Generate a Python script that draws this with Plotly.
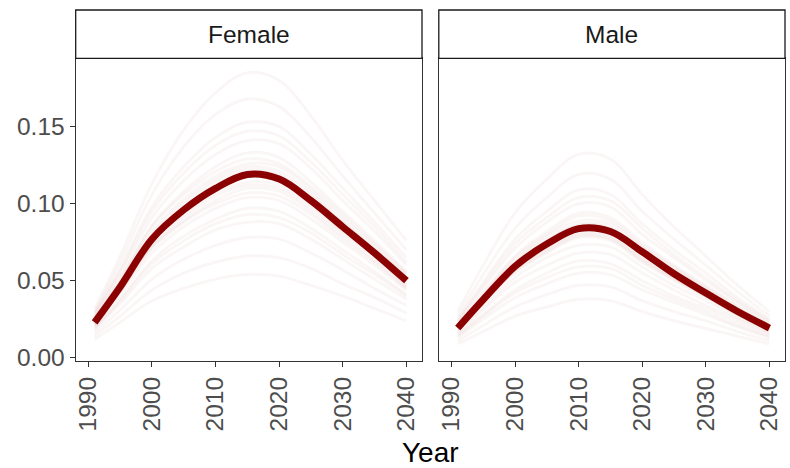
import plotly.graph_objects as go

# ---------------- data ----------------
years = [1991, 1995, 2000, 2005, 2010, 2015, 2020, 2025, 2030, 2035, 2040]
panels = ["Female", "Male"]

female_mean = [0.023, 0.046, 0.077, 0.096, 0.110, 0.119, 0.116, 0.102, 0.085, 0.068, 0.050]
male_mean = [0.0193, 0.0377, 0.0593, 0.0738, 0.0838, 0.0820, 0.0688, 0.0545, 0.0420, 0.0300, 0.0193]

female_draws = [
    [0.032, 0.066, 0.113, 0.148, 0.172, 0.185, 0.180, 0.157, 0.128, 0.102, 0.076],
    [0.030, 0.062, 0.106, 0.137, 0.158, 0.168, 0.163, 0.143, 0.118, 0.094, 0.070],
    [0.029, 0.058, 0.098, 0.124, 0.143, 0.153, 0.150, 0.132, 0.110, 0.088, 0.065],
    [0.027, 0.054, 0.091, 0.115, 0.132, 0.141, 0.139, 0.123, 0.102, 0.082, 0.060],
    [0.026, 0.051, 0.086, 0.108, 0.124, 0.133, 0.130, 0.114, 0.095, 0.076, 0.056],
    [0.025, 0.049, 0.082, 0.103, 0.118, 0.126, 0.124, 0.109, 0.091, 0.073, 0.054],
    [0.024, 0.047, 0.079, 0.099, 0.114, 0.122, 0.119, 0.105, 0.088, 0.070, 0.052],
    [0.023, 0.046, 0.077, 0.096, 0.111, 0.118, 0.116, 0.102, 0.085, 0.068, 0.050],
    [0.022, 0.045, 0.075, 0.093, 0.107, 0.114, 0.112, 0.099, 0.082, 0.066, 0.048],
    [0.022, 0.043, 0.072, 0.089, 0.102, 0.110, 0.108, 0.095, 0.079, 0.063, 0.046],
    [0.021, 0.041, 0.068, 0.085, 0.097, 0.104, 0.102, 0.090, 0.075, 0.060, 0.044],
    [0.020, 0.038, 0.063, 0.079, 0.090, 0.097, 0.095, 0.084, 0.070, 0.056, 0.041],
    [0.018, 0.035, 0.058, 0.072, 0.083, 0.088, 0.087, 0.077, 0.064, 0.051, 0.038],
    [0.016, 0.031, 0.051, 0.064, 0.073, 0.078, 0.077, 0.068, 0.057, 0.045, 0.034],
    [0.014, 0.027, 0.044, 0.055, 0.062, 0.066, 0.065, 0.058, 0.048, 0.039, 0.029],
    [0.012, 0.023, 0.037, 0.045, 0.051, 0.054, 0.053, 0.047, 0.040, 0.032, 0.024],
    [0.025, 0.050, 0.085, 0.106, 0.121, 0.129, 0.126, 0.111, 0.093, 0.074, 0.055],
    [0.021, 0.043, 0.071, 0.088, 0.100, 0.107, 0.105, 0.093, 0.077, 0.062, 0.045],
    [0.024, 0.048, 0.080, 0.101, 0.116, 0.124, 0.121, 0.107, 0.089, 0.071, 0.053],
    [0.022, 0.044, 0.073, 0.091, 0.105, 0.112, 0.110, 0.097, 0.081, 0.065, 0.047],
    [0.028, 0.056, 0.095, 0.120, 0.138, 0.147, 0.144, 0.127, 0.106, 0.085, 0.062],
    [0.019, 0.037, 0.061, 0.076, 0.087, 0.093, 0.091, 0.081, 0.067, 0.054, 0.040],
]

male_draws = [
    [0.030, 0.060, 0.094, 0.116, 0.132, 0.129, 0.106, 0.085, 0.066, 0.047, 0.030],
    [0.027, 0.054, 0.084, 0.104, 0.119, 0.116, 0.095, 0.077, 0.060, 0.043, 0.027],
    [0.025, 0.049, 0.077, 0.095, 0.109, 0.106, 0.087, 0.070, 0.055, 0.039, 0.025],
    [0.023, 0.045, 0.071, 0.088, 0.100, 0.098, 0.080, 0.065, 0.050, 0.036, 0.023],
    [0.022, 0.042, 0.066, 0.082, 0.094, 0.091, 0.075, 0.060, 0.047, 0.034, 0.022],
    [0.021, 0.040, 0.063, 0.079, 0.089, 0.087, 0.072, 0.058, 0.045, 0.032, 0.021],
    [0.020, 0.039, 0.061, 0.076, 0.086, 0.084, 0.069, 0.056, 0.043, 0.031, 0.020],
    [0.019, 0.038, 0.059, 0.073, 0.084, 0.082, 0.067, 0.054, 0.042, 0.030, 0.019],
    [0.019, 0.037, 0.058, 0.071, 0.081, 0.079, 0.065, 0.052, 0.041, 0.029, 0.019],
    [0.018, 0.035, 0.055, 0.068, 0.078, 0.076, 0.062, 0.050, 0.039, 0.028, 0.018],
    [0.017, 0.033, 0.052, 0.065, 0.073, 0.072, 0.059, 0.047, 0.037, 0.026, 0.017],
    [0.016, 0.031, 0.049, 0.060, 0.068, 0.067, 0.055, 0.044, 0.034, 0.025, 0.016],
    [0.015, 0.028, 0.044, 0.055, 0.063, 0.061, 0.050, 0.040, 0.032, 0.023, 0.015],
    [0.013, 0.025, 0.039, 0.048, 0.055, 0.054, 0.044, 0.036, 0.028, 0.020, 0.013],
    [0.011, 0.021, 0.033, 0.041, 0.047, 0.046, 0.037, 0.030, 0.024, 0.017, 0.011],
    [0.009, 0.017, 0.027, 0.033, 0.038, 0.037, 0.030, 0.024, 0.019, 0.014, 0.009],
    [0.021, 0.041, 0.065, 0.080, 0.092, 0.089, 0.073, 0.059, 0.046, 0.033, 0.021],
    [0.018, 0.036, 0.056, 0.069, 0.079, 0.077, 0.063, 0.051, 0.040, 0.028, 0.018],
    [0.020, 0.040, 0.062, 0.077, 0.087, 0.085, 0.070, 0.057, 0.044, 0.031, 0.020],
    [0.019, 0.036, 0.057, 0.070, 0.080, 0.078, 0.064, 0.052, 0.040, 0.029, 0.019],
    [0.024, 0.047, 0.074, 0.091, 0.104, 0.102, 0.084, 0.067, 0.052, 0.037, 0.024],
    [0.014, 0.027, 0.042, 0.052, 0.059, 0.058, 0.047, 0.038, 0.030, 0.021, 0.014],
]

x_ticks = [1990, 2000, 2010, 2020, 2030, 2040]
y_ticks = [0.00, 0.05, 0.10, 0.15]
y_tick_labels = ["0.00", "0.05", "0.10", "0.15"]
x_title = "Year"

# ---------------- figure ----------------
W, H = 790, 468
FONT = "Liberation Sans, Arial, Helvetica, sans-serif"
DRAW_COLOR = "rgba(139,0,0,0.035)"
MEAN_COLOR = "#8B0000"
AXIS_COLOR = "#333333"
TICK_TEXT = "#4D4D4D"

x_domains = [[75.7 / W, 422.0 / W], [438.8 / W, 785.0 / W]]
y_domain = [1 - 361.0 / H, 1 - 58.3 / H]
strip_top = 1 - 10.0 / H

fig = go.Figure()

panel_data = [(female_draws, female_mean), (male_draws, male_mean)]
for i, (draws, mean) in enumerate(panel_data):
    xa = "x" if i == 0 else "x2"
    ya = "y" if i == 0 else "y2"
    for d in draws:
        fig.add_trace(go.Scatter(
            x=years, y=d, mode="lines", xaxis=xa, yaxis=ya,
            line=dict(color=DRAW_COLOR, width=3, shape="spline", smoothing=1.0),
            hoverinfo="skip", showlegend=False))
    fig.add_trace(go.Scatter(
        x=years, y=mean, mode="lines", xaxis=xa, yaxis=ya,
        line=dict(color=MEAN_COLOR, width=7, shape="spline", smoothing=1.0),
        showlegend=False))

axis_common = dict(
    showgrid=False, zeroline=False, showline=True, mirror=True,
    linecolor=AXIS_COLOR, linewidth=1.3, automargin=False,
    ticks="outside", ticklen=5, tickwidth=1.3, tickcolor=AXIS_COLOR,
    tickfont=dict(family=FONT, size=24.5, color=TICK_TEXT),
)

x_range = [1988.02, 2042.45]
y_range = [-0.0021, 0.1944]

fig.update_layout(
    width=W, height=H,
    margin=dict(l=0, r=0, t=0, b=0),
    paper_bgcolor="white", plot_bgcolor="white",
    xaxis=dict(domain=x_domains[0], anchor="y", range=x_range,
               tickvals=x_ticks, ticktext=[str(v) for v in x_ticks],
               tickangle=-90, **axis_common),
    xaxis2=dict(domain=x_domains[1], anchor="y2", range=x_range,
                tickvals=x_ticks, ticktext=[str(v) for v in x_ticks],
                tickangle=-90, **axis_common),
    yaxis=dict(domain=y_domain, anchor="x", range=y_range,
               tickvals=y_ticks, ticktext=y_tick_labels, **axis_common),
    yaxis2=dict(domain=y_domain, anchor="x2", range=y_range,
                tickvals=y_ticks, showticklabels=False,
                **{**axis_common, "ticks": ""}),
)

# facet strips
for i, name in enumerate(panels):
    x0, x1 = x_domains[i]
    fig.add_shape(type="rect", xref="paper", yref="paper",
                  x0=x0, x1=x1, y0=y_domain[1], y1=strip_top,
                  line=dict(color="#1a1a1a", width=1.3), fillcolor="white",
                  layer="above")
    fig.add_annotation(x=(x0 + x1) / 2, y=(y_domain[1] + strip_top) / 2,
                       xref="paper", yref="paper", text=name, showarrow=False,
                       xanchor="center", yanchor="middle",
                       font=dict(family=FONT, size=24.5, color="#1a1a1a"))

fig.add_annotation(x=430.7 / W, y=1 - 452.0 / H, xref="paper", yref="paper",
                   text=x_title, showarrow=False, xanchor="center", yanchor="middle",
                   font=dict(family=FONT, size=28, color="black"))

fig.write_html("out.html")
